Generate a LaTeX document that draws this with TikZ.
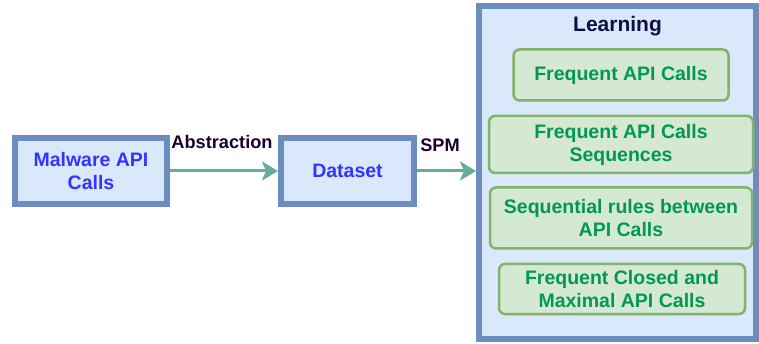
\documentclass[tikz,border=0pt]{standalone}
\usepackage{fontspec}
\setmainfont{Liberation Sans}
\usepackage{xcolor}
\usetikzlibrary{arrows.meta, positioning}

\definecolor{boxblue}{HTML}{DAE8FC}
\definecolor{edgeblue}{HTML}{6C8EBF}
\definecolor{textblue}{HTML}{3333FF}
\definecolor{boxgreen}{HTML}{D5E8D4}
\definecolor{edgegreen}{HTML}{82B366}
\definecolor{textgreen}{HTML}{00994D}
\definecolor{flowteal}{HTML}{67AB9F}
\definecolor{labeldark}{HTML}{190033}
\definecolor{titlenavy}{HTML}{0F0F40}

\begin{document}
\begin{tikzpicture}[
    x=1pt, y=-1pt,
    node distance=12pt,
    box/.style={draw=edgeblue, fill=boxblue, line width=6pt, minimum height=66pt, align=center,
                text=textblue, font=\fontsize{19.5}{23}\selectfont\bfseries},
    stage/.style={draw=edgegreen, fill=boxgreen, line width=2.5pt, rounded corners=6pt, align=center,
                  text=textgreen, font=\fontsize{19.5}{23}\selectfont\bfseries},
    tag/.style={text=labeldark, font=\fontsize{18.2}{20}\selectfont\bfseries, inner sep=0pt},
    line/.style={-{Stealth[length=16pt, width=19pt, inset=4pt]}, line width=3pt, draw=flowteal}
]
\useasboundingbox (0,0) rectangle (759,344);

% Input side
\node[box, minimum width=152pt] (malware) at (91,171) {Malware API\\Calls};
\node[box, minimum width=133pt, right=108pt of malware] (dataset) {Dataset};

% Learning block
\node[draw=edgeblue, fill=boxblue, line width=6pt, minimum width=277pt, minimum height=333pt] (learn) at (617.5,172.5) {};
\node[anchor=base, text=titlenavy, font=\fontsize{21}{24}\selectfont\bfseries] (learntitle) at ([yshift=-28.5pt]learn.north) {Learning};

% Mined patterns
\node[stage, minimum width=215pt, minimum height=51pt] (freq) at (621,75) {Frequent API Calls};
\node[stage, minimum width=264pt, minimum height=57pt, below=13pt of freq] (seq) {Frequent API Calls\\Sequences};
\node[stage, minimum width=262pt, minimum height=61pt, below=12pt of seq] (rules) {Sequential rules between\\API Calls};
\node[stage, minimum width=246pt, minimum height=50pt, below=13pt of rules, xshift=1pt] (closed) {Frequent Closed and\\Maximal API Calls};

% Arrows
\draw[line] (malware) -- (dataset);
\draw[line] (dataset.east) -- (dataset.east -| learn.west);

% Labels
\node[tag, anchor=base] (abstr) at (222,149) {Abstraction};
\node[tag, anchor=base] (spm) at (440,152) {SPM};

\end{tikzpicture}
\end{document}
